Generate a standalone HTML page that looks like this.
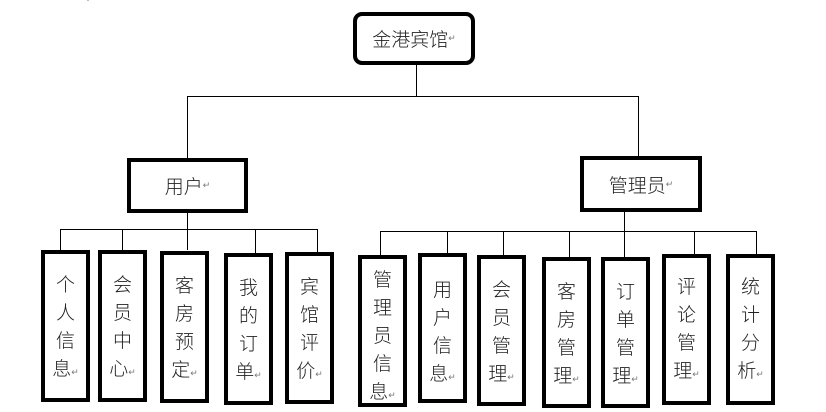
<!DOCTYPE html>
<html><head><meta charset="utf-8"><style>
body{margin:0;width:826px;height:412px;background:#fff;position:relative;overflow:hidden;font-family:"Liberation Sans","Noto Sans CJK SC",sans-serif;}
.l{position:absolute;background:#000;}
.b{position:absolute;border:4px solid #000;box-sizing:border-box;background:#fff;color:#222;font-size:19px;font-weight:300;}
.v{text-align:center;line-height:28px;}
.r{font-size:9px;color:#777;}
.h{display:flex;align-items:center;justify-content:center;}
</style></head><body>
<div style="position:absolute;left:86px;top:-6px;font-size:9px;color:#777">↵</div>
<div class="l" style="left:416px;top:64px;width:1px;height:33px"></div>
<div class="l" style="left:187px;top:96px;width:452px;height:1px"></div>
<div class="l" style="left:187px;top:96px;width:1px;height:62px"></div>
<div class="l" style="left:638px;top:96px;width:1px;height:60px"></div>
<div class="l" style="left:187px;top:212px;width:1px;height:38px"></div>
<div class="l" style="left:60px;top:229px;width:258px;height:1px"></div>
<div class="l" style="left:60px;top:229px;width:1px;height:21px"></div>
<div class="l" style="left:122px;top:229px;width:1px;height:21px"></div>
<div class="l" style="left:255px;top:229px;width:1px;height:24px"></div>
<div class="l" style="left:317px;top:229px;width:1px;height:23px"></div>
<div class="l" style="left:624px;top:211px;width:1px;height:46px"></div>
<div class="l" style="left:380px;top:231px;width:377px;height:1px"></div>
<div class="l" style="left:380px;top:231px;width:1px;height:24px"></div>
<div class="l" style="left:447px;top:231px;width:1px;height:22px"></div>
<div class="l" style="left:503px;top:231px;width:1px;height:24px"></div>
<div class="l" style="left:569px;top:231px;width:1px;height:26px"></div>
<div class="l" style="left:694px;top:231px;width:1px;height:23px"></div>
<div class="l" style="left:756px;top:231px;width:1px;height:23px"></div>
<div class="b h" style="left:353px;top:12px;width:122px;height:53px;border-radius:9px">金港宾馆<span class="r">↵</span></div>
<div class="b h" style="left:127px;top:158px;width:121px;height:55px">用户<span class="r">↵</span></div>
<div class="b h" style="left:580px;top:156px;width:122px;height:56px">管理员<span class="r">↵</span></div>
<div class="b v" style="left:41px;top:250px;width:49px;height:152px;padding-top:18px">个<br>人<br>信<br>息<span class="r">↵</span></div>
<div class="b v" style="left:98px;top:250px;width:49px;height:152px;padding-top:18px">会<br>员<br>中<br>心<span class="r">↵</span></div>
<div class="b v" style="left:160px;top:251px;width:49px;height:152px;padding-top:18px">客<br>房<br>预<br>定<span class="r">↵</span></div>
<div class="b v" style="left:224px;top:253px;width:49px;height:152px;padding-top:18px">我<br>的<br>订<br>单<span class="r">↵</span></div>
<div class="b v" style="left:285px;top:252px;width:49px;height:152px;padding-top:18px">宾<br>馆<br>评<br>价<span class="r">↵</span></div>
<div class="b v" style="left:358px;top:255px;width:49px;height:152px;padding-top:8px">管<br>理<br>员<br>信<br>息<span class="r">↵</span></div>
<div class="b v" style="left:418px;top:253px;width:49px;height:150px;padding-top:20px">用<br>户<br>信<br>息<span class="r">↵</span></div>
<div class="b v" style="left:477px;top:255px;width:49px;height:151px;padding-top:18px">会<br>员<br>管<br>理<span class="r">↵</span></div>
<div class="b v" style="left:542px;top:257px;width:49px;height:151px;padding-top:18px">客<br>房<br>管<br>理<span class="r">↵</span></div>
<div class="b v" style="left:601px;top:257px;width:49px;height:151px;padding-top:18px">订<br>单<br>管<br>理<span class="r">↵</span></div>
<div class="b v" style="left:662px;top:254px;width:49px;height:151px;padding-top:16px">评<br>论<br>管<br>理<span class="r">↵</span></div>
<div class="b v" style="left:726px;top:254px;width:49px;height:151px;padding-top:16px">统<br>计<br>分<br>析<span class="r">↵</span></div>
</body></html>
